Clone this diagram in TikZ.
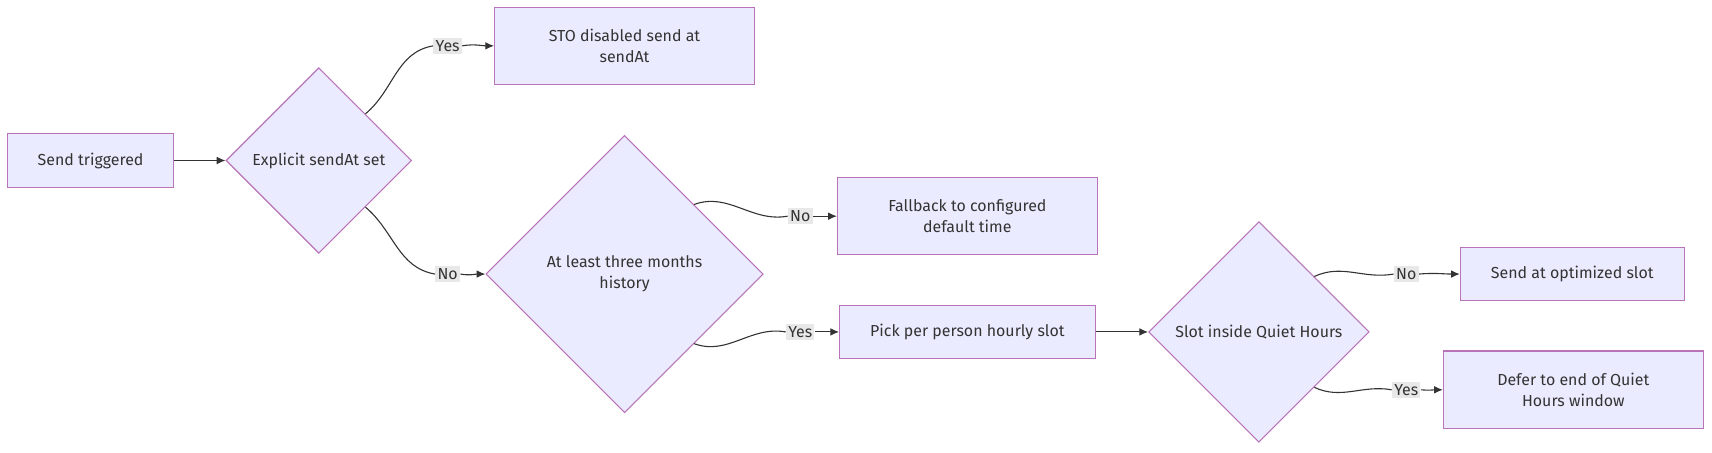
\documentclass[tikz,border=0pt]{standalone}
\usepackage{fontspec}
\setmainfont{Fira Sans}
\usetikzlibrary{shapes.geometric,arrows.meta}
\begin{document}
\begin{tikzpicture}[x=0.5pt,y=-0.5pt,
  every node/.style={font=\fontsize{7.3}{9.5}\selectfont, text=black!80},
  box/.style={draw=violet!55, fill=blue!8, line width=0.5pt, inner sep=0pt, align=center},
  dia/.style={draw=violet!55, fill=blue!8, line width=0.5pt, diamond, inner sep=0pt, align=center},
  lab/.style={fill=black!9, inner sep=1pt},
  arr/.style={draw=black!80, line width=0.5pt, -{Latex[length=4pt,width=3.5pt]}},
  ln/.style={draw=black!80, line width=0.5pt}]
\useasboundingbox (0,0) rectangle (1568,414);
\node[box, minimum width=76pt, minimum height=24.5pt] (send) at (83,147) {Send triggered};
\node[dia, minimum width=85pt, minimum height=85pt] (d1) at (292,147) {Explicit sendAt set};
\node[box, minimum width=119pt, minimum height=35.5pt] (sto) at (572,42) {STO disabled send at\\sendAt};
\node[dia, minimum width=127pt, minimum height=127pt] (d2) at (572,251) {At least three months\\history};
\node[box, minimum width=119pt, minimum height=35.5pt] (fb) at (886,198) {Fallback to configured\\default time};
\node[box, minimum width=117pt, minimum height=24.5pt] (pick) at (886,304) {Pick per person hourly slot};
\node[dia, minimum width=101pt, minimum height=101pt] (d3) at (1153,304) {Slot inside Quiet Hours};
\node[box, minimum width=102.5pt, minimum height=24.5pt] (opt) at (1440,251) {Send at optimized slot};
\node[box, minimum width=119pt, minimum height=35.5pt] (defer) at (1441,357) {Defer to end of Quiet\\Hours window};
\node[lab] (l1) at (410,42) {Yes};
\node[lab] (l2) at (410,251) {No};
\node[lab] (l3) at (733,198) {No};
\node[lab] (l4) at (733,304) {Yes};
\node[lab] (l5) at (1288,251) {No};
\node[lab] (l6) at (1288,357) {Yes};
\draw[arr] (send) -- (d1);
\draw[ln] (d1.north east) to[out=40,in=190] (l1.west);
\draw[arr] (l1.east) to[out=10,in=180] (sto.west);
\draw[ln] (d1.south east) to[out=-40,in=170] (l2.west);
\draw[arr] (l2.east) to[out=-10,in=180] (d2.west);
\draw[ln] (d2.north east) to[out=20,in=190] (l3.west);
\draw[arr] (l3.east) -- (fb.west);
\draw[ln] (d2.south east) to[out=-20,in=170] (l4.west);
\draw[arr] (l4.east) -- (pick.west);
\draw[arr] (pick) -- (d3);
\draw[ln] (d3.north east) to[out=25,in=190] (l5.west);
\draw[arr] (l5.east) to[out=5,in=180] (opt.west);
\draw[ln] (d3.south east) to[out=-25,in=170] (l6.west);
\draw[arr] (l6.east) to[out=-5,in=180] (defer.west);
\end{tikzpicture}
\end{document}
